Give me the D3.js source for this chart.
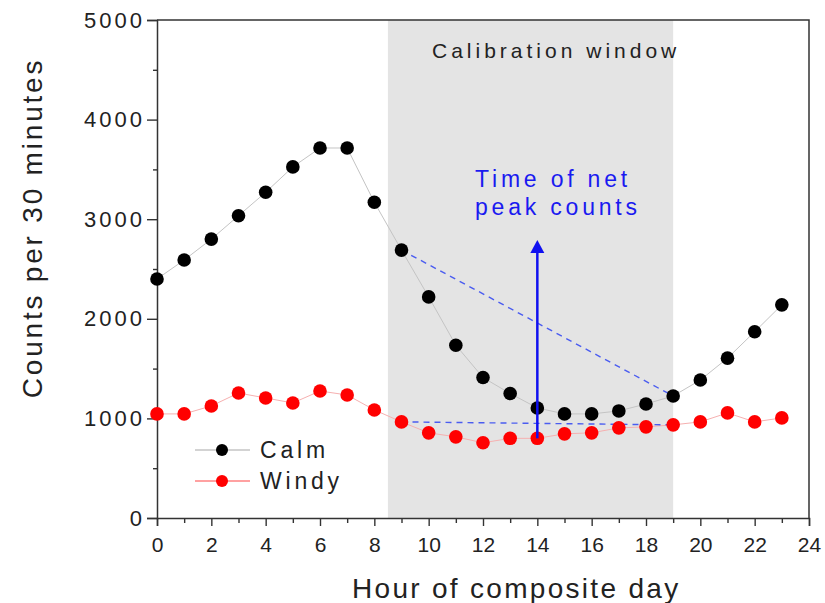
<!DOCTYPE html>
<html>
<head>
<meta charset="utf-8">
<script src="https://cdn.jsdelivr.net/npm/d3@7"></script>
<style>
  body { margin: 0; background: #fff; }
  text { font-family: "Liberation Sans", Arial, sans-serif; fill: #222; }
</style>
</head>
<body>
<div id="chart"></div>
<script>
// Data
const hours = d3.range(0, 24);
const calm = [2400, 2590, 2800, 3035, 3270, 3525, 3715, 3715, 3170, 2690, 2220, 1735,
  1410, 1250, 1105, 1045, 1045, 1075, 1145, 1225, 1385, 1605, 1870, 2140];
const windy = [1045, 1045, 1125, 1255, 1205, 1155, 1275, 1235, 1085, 965, 855, 815,
  755, 800, 800, 845, 855, 905, 915, 935, 965, 1055, 965, 1005];
const xTicks = d3.range(0, 25, 2);
const yTicks = [0, 1000, 2000, 3000, 4000, 5000];
const windowRange = [8.5, 19];
const peakHour = 14;
const arrowTop = 2790;

const width = 825, height = 603;
const margin = { top: 20, right: 16, bottom: 85, left: 157 };
const fontFamily = "'Liberation Sans', Arial, sans-serif";

const svg = d3.select("#chart").append("svg")
  .attr("width", width)
  .attr("height", height);

const x = d3.scaleLinear().domain([0, 24]).range([margin.left, width - margin.right]);
const y = d3.scaleLinear().domain([0, 5000]).range([height - margin.bottom, margin.top]);

// Calibration window shading
svg.append("rect")
  .attr("x", x(windowRange[0]))
  .attr("y", y(5000))
  .attr("width", x(windowRange[1]) - x(windowRange[0]))
  .attr("height", y(0) - y(5000))
  .attr("fill", "#e4e4e4");

svg.append("text")
  .attr("x", 432)
  .attr("y", 58)
  .attr("font-size", 21)
  .attr("letter-spacing", 4)
  .text("Calibration window");

// Axes (major + minor ticks, outward)
const xAxis = svg.append("g").attr("transform", `translate(0,${y(0)})`);
xAxis.call(d3.axisBottom(x).tickValues(d3.range(1, 24, 2)).tickSize(5).tickFormat(""));
xAxis.call(g => g.select(".domain").remove());
const xAxisMajor = svg.append("g").attr("transform", `translate(0,${y(0)})`)
  .call(d3.axisBottom(x).tickValues(xTicks).tickSize(8).tickPadding(11));
xAxisMajor.selectAll("text").attr("font-size", 21).attr("fill", "#222")
  .style("font-family", fontFamily);

const yAxis = svg.append("g").attr("transform", `translate(${x(0)},0)`);
yAxis.call(d3.axisLeft(y).tickValues(d3.range(500, 5000, 1000)).tickSize(4).tickFormat(""));
yAxis.call(g => g.select(".domain").remove());
const yAxisMajor = svg.append("g").attr("transform", `translate(${x(0)},0)`)
  .call(d3.axisLeft(y).tickValues(yTicks).tickFormat(d3.format("d")).tickSize(10).tickPadding(2));
yAxisMajor.selectAll("text").attr("font-size", 22).attr("fill", "#222")
  .attr("letter-spacing", 3)
  .style("font-family", fontFamily);

svg.selectAll(".domain").attr("stroke", "#333").attr("stroke-width", 1.5);
svg.selectAll(".tick line").attr("stroke", "#333").attr("stroke-width", 1.4);

// Frame top and right
svg.append("path")
  .attr("d", `M${x(0)},${y(5000)}H${x(24)}V${y(0)}`)
  .attr("fill", "none")
  .attr("stroke", "#333")
  .attr("stroke-width", 1.5);

// Axis titles
svg.append("text")
  .attr("x", 352)
  .attr("y", 598)
  .attr("font-size", 28)
  .attr("letter-spacing", 2.3)
  .text("Hour of composite day");

svg.append("text")
  .attr("transform", `translate(42,228) rotate(-90)`)
  .attr("text-anchor", "middle")
  .attr("font-size", 28)
  .attr("letter-spacing", 2.8)
  .text("Counts per 30 minutes");

// Series lines and markers
const line = d3.line().x((d, i) => x(hours[i])).y(d => y(d));

svg.append("path").datum(windy)
  .attr("d", line).attr("fill", "none").attr("stroke", "#f6b0b0").attr("stroke-width", 1);
svg.append("path").datum(calm)
  .attr("d", line).attr("fill", "none").attr("stroke", "#c4c4c4").attr("stroke-width", 1);

// Blue dashed baselines
const dashPairs = [[calm[9], calm[19]], [windy[9], windy[19]]];
svg.selectAll(".dash").data(dashPairs).join("line")
  .attr("class", "dash")
  .attr("x1", x(9)).attr("y1", d => y(d[0]))
  .attr("x2", x(19)).attr("y2", d => y(d[1]))
  .attr("stroke", "#4a5cf0")
  .attr("stroke-width", 1.4)
  .attr("stroke-dasharray", "6,5");

svg.selectAll(".windy").data(windy).join("circle")
  .attr("class", "windy")
  .attr("cx", (d, i) => x(hours[i])).attr("cy", d => y(d))
  .attr("r", 6.8).attr("fill", "#f00");

svg.selectAll(".calm").data(calm).join("circle")
  .attr("class", "calm")
  .attr("cx", (d, i) => x(hours[i])).attr("cy", d => y(d))
  .attr("r", 6.8).attr("fill", "#000");

// Arrow for time of net peak counts
svg.append("line")
  .attr("x1", x(peakHour)).attr("y1", y(windy[peakHour]))
  .attr("x2", x(peakHour)).attr("y2", y(arrowTop) + 12)
  .attr("stroke", "#1010f0").attr("stroke-width", 2.5);
svg.append("path")
  .attr("d", `M${x(peakHour)},${y(arrowTop)}l-7,13h14z`)
  .attr("fill", "#1010f0");

const noteLines = ["Time of net", "peak counts"];
svg.selectAll(".note").data(noteLines).join("text")
  .attr("class", "note")
  .attr("x", 475)
  .attr("y", (d, i) => 187 + i * 28)
  .attr("font-size", 23)
  .attr("letter-spacing", 3.8)
  .style("fill", "#1a1af0")
  .text(d => d);

// Legend
const legend = [
  { name: "Calm", color: "#000", lineColor: "#a8a8a8", yPos: 450 },
  { name: "Windy", color: "#f00", lineColor: "#f44", yPos: 481 }
];
const lg = svg.selectAll(".legend").data(legend).join("g").attr("class", "legend");
lg.append("line")
  .attr("x1", 195).attr("x2", 250)
  .attr("y1", d => d.yPos).attr("y2", d => d.yPos)
  .attr("stroke", d => d.lineColor).attr("stroke-width", 1.2);
lg.append("circle")
  .attr("cx", 222).attr("cy", d => d.yPos).attr("r", 6)
  .attr("fill", d => d.color);
lg.append("text")
  .attr("x", 260).attr("y", d => d.yPos + 7.5)
  .attr("font-size", 23)
  .attr("letter-spacing", 3.8)
  .text(d => d.name);
</script>
</body>
</html>
